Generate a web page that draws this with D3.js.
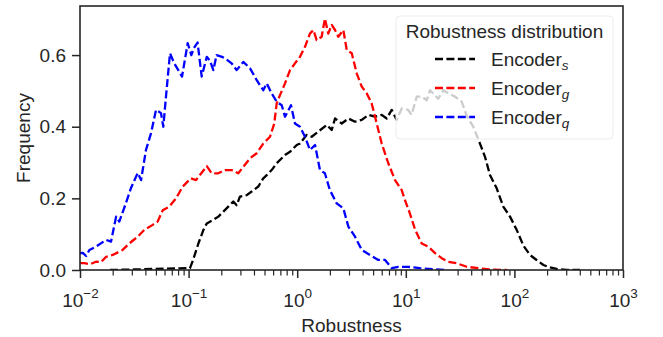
<!DOCTYPE html>
<html>
<head>
<meta charset="utf-8">
<script src="https://cdn.jsdelivr.net/npm/d3@7"></script>
<style>
  html, body { margin: 0; padding: 0; background: #fff; }
  svg { display: block; }
  text { font-family: "Liberation Sans", Arial, sans-serif; fill: #262626; }
</style>
</head>
<body>
<svg id="chart" width="663" height="337"></svg>
<script>
// ---- data ----
const encoderSRobustness = [0.0189,0.0961,0.103,0.110,0.123,0.137,0.147,0.169,0.188,0.209,0.232,0.258,0.277,0.297,0.343,0.381,0.438,0.487,0.524,0.582,0.647,0.720,0.772,0.859,0.990,1.06,1.22,1.36,1.56,1.87,2.08,2.23,2.57,2.96,3.41,3.93,4.52,5.21,6.00,6.67,7.42,8.25,9.17,10.5,11.3,12.6,14.0,15.6,16.7,19.9,22.2,24.6,28.4,32.7,36.4,41.8,48.2,53.6,59.6,68.7,79.0,91.1,105,121,139,160,185,213,245,303,402];
const encoderSFrequency = [0,0.005,0.005,0.028,0.074,0.112,0.130,0.140,0.149,0.163,0.177,0.191,0.181,0.205,0.209,0.219,0.233,0.256,0.265,0.279,0.298,0.312,0.321,0.330,0.349,0.353,0.377,0.372,0.386,0.405,0.391,0.423,0.409,0.423,0.414,0.419,0.433,0.428,0.433,0.423,0.447,0.419,0.451,0.447,0.433,0.484,0.484,0.474,0.502,0.478,0.502,0.493,0.484,0.470,0.430,0.400,0.353,0.316,0.265,0.228,0.177,0.149,0.112,0.068,0.042,0.028,0.014,0.007,0.003,0,0];

const encoderGRobustness = [0.0100,0.0110,0.0124,0.0140,0.0156,0.0174,0.0200,0.0247,0.0284,0.0340,0.0391,0.0467,0.0519,0.0578,0.0664,0.0766,0.0883,0.105,0.117,0.127,0.147,0.163,0.188,0.216,0.249,0.287,0.319,0.368,0.424,0.487,0.562,0.615,0.647,0.694,0.772,0.859,0.954,1.06,1.18,1.31,1.41,1.51,1.68,1.80,1.93,2.08,2.23,2.39,2.66,2.86,3.18,3.53,3.93,4.37,4.85,5.40,6.00,6.90,7.96,9.17,9.83,10.9,12.2,14.0,16.1,18.6,21.4,24.6,29.4,36.4,46.5,61.8,85.5];
const encoderGFrequency = [0.019,0.019,0.016,0.023,0.022,0.037,0.042,0.056,0.074,0.093,0.112,0.126,0.135,0.167,0.177,0.200,0.233,0.256,0.251,0.265,0.290,0.270,0.270,0.279,0.279,0.270,0.288,0.312,0.326,0.353,0.372,0.409,0.465,0.488,0.521,0.558,0.577,0.595,0.623,0.660,0.670,0.642,0.651,0.702,0.660,0.684,0.670,0.651,0.670,0.614,0.605,0.549,0.512,0.493,0.465,0.409,0.353,0.298,0.251,0.223,0.195,0.158,0.112,0.074,0.065,0.047,0.033,0.023,0.019,0.009,0.005,0.001,0];

const encoderQRobustness = [0.0100,0.0106,0.0114,0.0122,0.0140,0.0174,0.0193,0.0215,0.0230,0.0265,0.0295,0.0340,0.0365,0.0405,0.0451,0.0501,0.0557,0.0585,0.0619,0.0674,0.0738,0.0870,0.0981,0.106,0.112,0.121,0.132,0.147,0.157,0.169,0.181,0.203,0.216,0.249,0.277,0.319,0.368,0.424,0.487,0.524,0.582,0.647,0.720,0.772,0.877,0.954,1.06,1.18,1.31,1.46,1.62,1.80,2.00,2.31,2.66,2.96,3.41,3.93,4.68,5.58,6.44,7.42,8.53,10.5,13.5,18.6,23.0];
const encoderQFrequency = [0.047,0.048,0.039,0.056,0.065,0.084,0.079,0.149,0.135,0.187,0.229,0.271,0.251,0.335,0.382,0.447,0.438,0.400,0.484,0.605,0.577,0.540,0.633,0.600,0.620,0.635,0.540,0.595,0.585,0.558,0.600,0.595,0.591,0.577,0.558,0.581,0.563,0.530,0.502,0.521,0.493,0.470,0.460,0.428,0.460,0.409,0.400,0.372,0.335,0.349,0.279,0.270,0.223,0.186,0.172,0.121,0.093,0.056,0.042,0.028,0.028,0.005,0.009,0.009,0.005,0.002,0];

const seriesNames = ["s", "g", "q"];
const seriesColors = ["#000000", "#ff0000", "#0000ff"];
const xTickExponents = [-2, -1, 0, 1, 2, 3];
const yTickValues = [0.0, 0.2, 0.4, 0.6];
const xLabel = "Robustness";
const yLabel = "Frequency";
const legendTitle = "Robustness distribution";

// ---- layout ----
const svg = d3.select("#chart");
const L = 80, R = 623, T = 6, B = 270;
const ink = "#262626";
const dash = "8,3.4";
const lw = 2.3;

const x = d3.scaleLog().domain([1e-2, 1e3]).range([L, R]);
const y = d3.scaleLinear().domain([0, 0.737]).range([B, T]);

svg.append("defs").append("clipPath").attr("id", "plotclip")
  .append("rect").attr("x", L).attr("y", T).attr("width", R - L).attr("height", B - T);

const series = [
  { xs: encoderSRobustness, ys: encoderSFrequency },
  { xs: encoderGRobustness, ys: encoderGFrequency },
  { xs: encoderQRobustness, ys: encoderQFrequency }
];

const line = d3.line().x(d => x(d[0])).y(d => y(d[1]));
const lines = svg.append("g").attr("clip-path", "url(#plotclip)");
series.forEach((s, i) => {
  lines.append("path")
    .datum(s.xs.map((v, j) => [v, s.ys[j]]))
    .attr("d", line)
    .attr("fill", "none")
    .attr("stroke", seriesColors[i])
    .attr("stroke-width", lw)
    .attr("stroke-dasharray", dash)
    .attr("stroke-linejoin", "round");
});

// ---- axes ----
const xAxis = d3.axisBottom(x).tickValues(xTickExponents.map(e => Math.pow(10, e)))
  .tickSize(8).tickFormat("");
const gx = svg.append("g").attr("transform", `translate(0,${B})`).call(xAxis);
gx.select(".domain").remove();
gx.selectAll(".tick line").attr("stroke", ink).attr("stroke-width", 1.5);

// minor ticks
const minor = [];
for (let e = -2; e < 3; e++) for (let m = 2; m <= 9; m++) minor.push(m * Math.pow(10, e));
const xMinor = d3.axisBottom(x).tickValues(minor).tickSize(5.5).tickFormat("");
const gxm = svg.append("g").attr("transform", `translate(0,${B})`).call(xMinor);
gxm.select(".domain").remove();
gxm.selectAll(".tick line").attr("stroke", ink).attr("stroke-width", 1.2);

// x tick labels with superscripts
gx.selectAll(".tick").each(function(d, i) {
  const t = d3.select(this).append("text")
    .attr("y", 37).attr("text-anchor", "middle")
    .style("font-size", "19px").attr("fill", ink);
  t.append("tspan").text("10");
  t.append("tspan").text(xTickExponents[i] < 0 ? "\u2212" + Math.abs(xTickExponents[i]) : String(xTickExponents[i]))
    .attr("dy", -9).style("font-size", "13.5px");
});

const yAxis = d3.axisLeft(y).tickValues(yTickValues).tickSize(8).tickPadding(6)
  .tickFormat(d3.format(".1f"));
const gy = svg.append("g").attr("transform", `translate(${L},0)`).call(yAxis);
gy.select(".domain").remove();
gy.selectAll(".tick line").attr("stroke", ink).attr("stroke-width", 1.5);
gy.selectAll(".tick text").style("font-size", "19px").attr("fill", ink)
  .attr("font-family", null);

// frame
svg.append("rect").attr("x", L).attr("y", T).attr("width", R - L).attr("height", B - T)
  .attr("fill", "none").attr("stroke", ink).attr("stroke-width", 1.6);

// axis labels
svg.append("text").attr("x", (L + R) / 2).attr("y", 332).attr("text-anchor", "middle")
  .style("font-size", "19px").text(xLabel);
svg.append("text").attr("transform", `translate(30,${(T + B) / 2}) rotate(-90)`)
  .attr("text-anchor", "middle").style("font-size", "19px").text(yLabel);

// ---- legend ----
const lg = svg.append("g");
lg.append("rect").attr("x", 396).attr("y", 16).attr("width", 217).attr("height", 123)
  .attr("rx", 4).attr("fill", "#ffffff").attr("fill-opacity", 0.8)
  .attr("stroke", "#ececec").attr("stroke-width", 1);
lg.append("text").attr("x", 504.5).attr("y", 37.5).attr("text-anchor", "middle")
  .style("font-size", "19px").text(legendTitle);
seriesNames.forEach((n, i) => {
  const by = 66 + i * 29;
  lg.append("line").attr("x1", 435).attr("x2", 475).attr("y1", by - 7).attr("y2", by - 7)
    .attr("stroke", seriesColors[i]).attr("stroke-width", lw).attr("stroke-dasharray", dash);
  const t = lg.append("text").attr("x", 491).attr("y", by).style("font-size", "19px");
  t.append("tspan").text("Encoder");
  t.append("tspan").text(n).attr("dy", 4).style("font-size", "13.5px").style("font-style", "italic");
});
</script>
</body>
</html>
